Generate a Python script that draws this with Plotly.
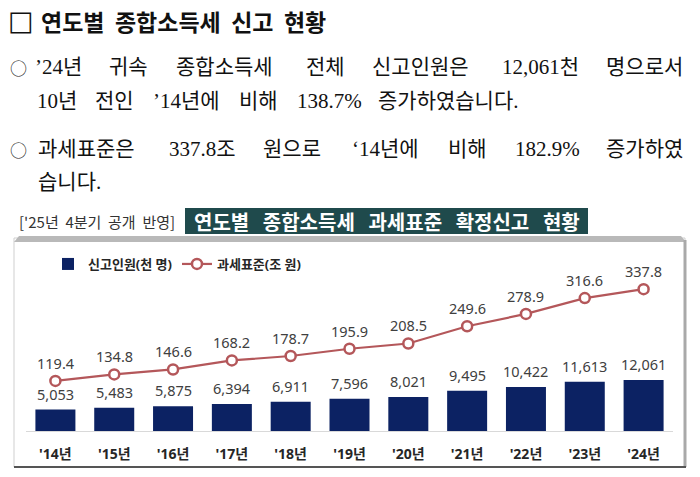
import re
import plotly.graph_objects as go

# ---- data ----
years = ["'14년", "'15년", "'16년", "'17년", "'18년", "'19년",
         "'20년", "'21년", "'22년", "'23년", "'24년"]
filers = [5053, 5483, 5875, 6394, 6911, 7596, 8021, 9495, 10422, 11613, 12061]
tax_base = [119.4, 134.8, 146.6, 168.2, 178.7, 195.9, 208.5, 249.6, 278.9, 316.6, 337.8]

title = "연도별 종합소득세 신고 현황"
chart_title = "연도별 종합소득세 과세표준 확정신고 현황"
note = "['25년 4분기 공개 반영]"
para_lines = [
    "’24년 귀속 종합소득세 전체 신고인원은 12,061천 명으로서",
    "10년 전인 ’14년에 비해 138.7% 증가하였습니다.",
    "과세표준은 337.8조 원으로 ‘14년에 비해 182.9% 증가하였",
    "습니다.",
]
line_y = [67, 101, 149, 182]

W, H = 700, 477
NAVY = "#0c2263"
RED = "#b4575a"
SANS = "Noto Sans, Noto Sans CJK KR, sans-serif"
SERIF = "Liberation Serif, Noto Sans CJK KR, serif"
NBSP = "\u00a0"
LATIN_SIZE = 21
HANGUL_SIZE = 21


def px(x):
    return x / W


def py(y):
    return 1 - y / H


def spread(s, n):
    return s.replace(" ", NBSP * n)


def mixed(word):
    return re.sub("([\uac00-\ud7a3]+)",
                  lambda m: f'<span style="font-size:{HANGUL_SIZE}px">{m.group(1)}</span>', word)


def text_width(word):
    w = 0
    for ch in word:
        if "\uac00" <= ch <= "\ud7a3":
            w += HANGUL_SIZE
        elif ch.isdigit():
            w += 0.5 * LATIN_SIZE
        elif ch in ",.":
            w += 0.25 * LATIN_SIZE
        elif ch == "%":
            w += 0.833 * LATIN_SIZE
        else:
            w += 0.333 * LATIN_SIZE
    return w


def place_line(line, x0, x1=None, gap=None):
    # left edge of each word: justified between x0 and x1, or a fixed gap
    words = line.split(" ")
    widths = [text_width(w) for w in words]
    if gap is None:
        gap = (x1 - x0 - sum(widths)) / (len(words) - 1)
    out, x = [], x0
    for w, wd in zip(words, widths):
        out.append((w, x))
        x += wd + gap
    return out


fig = go.Figure()

fig.add_trace(go.Bar(
    x=years, y=filers, name="신고인원(천 명)",
    marker=dict(color=NAVY, line=dict(width=0)),
    width=0.68,
))
fig.add_trace(go.Scatter(
    x=years, y=tax_base, name="과세표준(조 원)", yaxis="y2",
    mode="lines+markers",
    line=dict(color=RED, width=2.2),
    marker=dict(size=10, color="white", line=dict(color=RED, width=2.5)),
))

ann = []
for yr, v in zip(years, filers):
    ann.append(dict(x=yr, y=v, xref="x", yref="y", text=f"{v:,}", showarrow=False,
                    yshift=16, font=dict(family=SANS, size=14.5, color="#404040")))
for yr, v in zip(years, tax_base):
    ann.append(dict(x=yr, y=v, xref="x", yref="y2", text=f"{v:.1f}", showarrow=False,
                    yshift=18, font=dict(family=SANS, size=14.5, color="#404040")))

ann.append(dict(x=px(6), y=py(21), xref="paper", yref="paper", text="□",
                showarrow=False, xanchor="left", yanchor="middle",
                font=dict(family="DejaVu Sans", size=27, color="#111111")))
ann.append(dict(x=px(39), y=py(21), xref="paper", yref="paper",
                text=f"<b>{spread(title, 2)}</b>",
                showarrow=False, xanchor="left", yanchor="middle",
                font=dict(family="Noto Sans CJK KR", size=23, color="#111111")))

# bullets and paragraph lines
for yc in (line_y[0], line_y[2]):
    ann.append(dict(x=px(8), y=py(yc), xref="paper", yref="paper", text="○",
                    showarrow=False, xanchor="left", yanchor="middle",
                    font=dict(family="Noto Sans CJK KR", size=17, color="#111111", weight=300)))
layout_lines = [
    place_line(para_lines[0], 33, 688),
    place_line(para_lines[1], 35, gap=16),
    place_line(para_lines[2], 36, 688),
    place_line(para_lines[3], 36, gap=16),
]
for words, yc in zip(layout_lines, line_y):
    for w, x0 in words:
        ann.append(dict(x=px(x0), y=py(yc), xref="paper", yref="paper", text=mixed(w),
                        showarrow=False, xanchor="left", yanchor="middle",
                        font=dict(family=SERIF, size=LATIN_SIZE, color="#111111", weight=400)))

ann.append(dict(x=px(17), y=py(221), xref="paper", yref="paper", text=spread(note, 2),
                showarrow=False, xanchor="left", yanchor="middle",
                font=dict(family="Noto Sans CJK KR", size=15, color="#333333")))
ann.append(dict(x=px(387), y=py(221), xref="paper", yref="paper",
                text=f"<b>{spread(chart_title, 3)}</b>",
                showarrow=False, xanchor="center", yanchor="middle",
                font=dict(family="Noto Sans CJK KR", size=20, color="white")))

shapes = [
    # chart frame
    dict(type="rect", xref="paper", yref="paper", x0=px(14), x1=px(685), y0=py(467), y1=py(238),
         line=dict(color="#cfcfcf", width=1), fillcolor="white", layer="below"),
    dict(type="path", xref="paper", yref="paper",
         path=f"M {px(14)} {py(242)} L {px(19)} {py(236)} L {px(681)} {py(236)} "
              f"L {px(686)} {py(242)} Z",
         line=dict(width=0), fillcolor="#b9b9b9", layer="below"),
    dict(type="line", xref="paper", yref="paper", x0=px(685), x1=px(685), y0=py(467), y1=py(240),
         line=dict(color="#a9a9a9", width=3), layer="below"),
    dict(type="line", xref="paper", yref="paper", x0=px(14), x1=px(686), y0=py(467), y1=py(467),
         line=dict(color="#555555", width=2), layer="below"),
    # title box
    dict(type="rect", xref="paper", yref="paper", x0=px(185), x1=px(588), y0=py(234), y1=py(208),
         line=dict(width=0), fillcolor="#1f4a4c", layer="below"),
]

fig.update_layout(
    width=W, height=H,
    margin=dict(l=0, r=0, t=0, b=0),
    paper_bgcolor="white", plot_bgcolor="rgba(0,0,0,0)",
    bargap=0.32,
    showlegend=True,
    legend=dict(orientation="h", x=px(48), y=py(264), xanchor="left", yanchor="middle",
                font=dict(family=SANS, size=13, color="#262626", weight="bold"),
                itemwidth=30, bgcolor="rgba(0,0,0,0)", traceorder="normal"),
    xaxis=dict(domain=[px(26), px(673)], range=[-0.5, 10.5], showgrid=False, showline=True,
               linecolor="#d9d9d9", linewidth=1, ticks="", ticklabelstandoff=10,
               tickfont=dict(family=SANS, size=14, color="#262626", weight="bold")),
    yaxis=dict(domain=[py(431), py(240)], range=[0, 45150], visible=False, showgrid=False),
    yaxis2=dict(domain=[py(431), py(240)], range=[0, 455], overlaying="y", visible=False,
                showgrid=False),
    annotations=ann,
    shapes=shapes,
)

# drop the page's default 8px body margin so the figure sits at the window corner
fig.write_html("out.html", config={"displayModeBar": False},
               post_script="document.body.style.margin = '0px';")
